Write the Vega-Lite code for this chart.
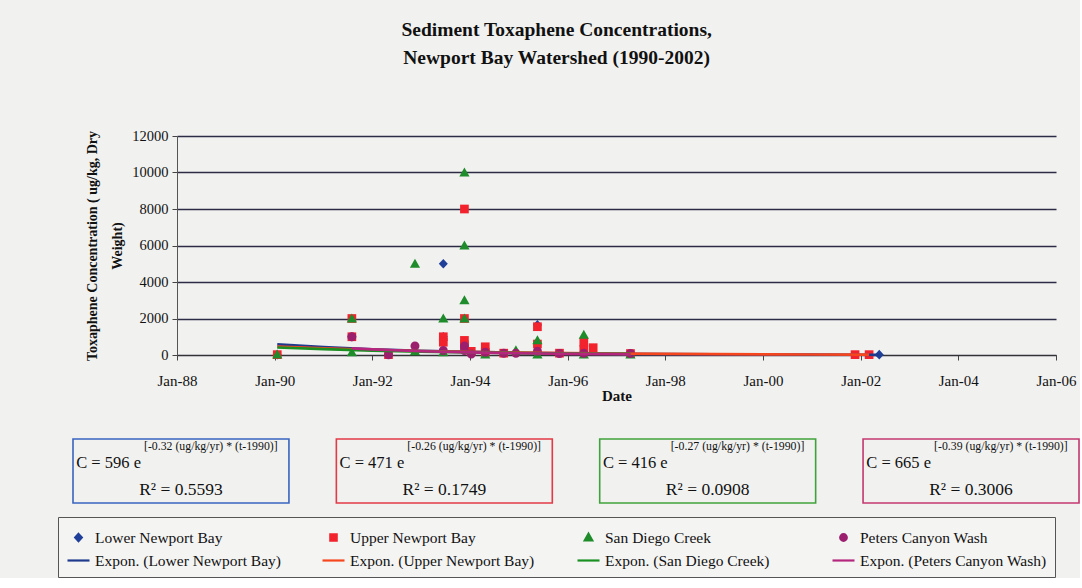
{
  "$schema": "https://vega.github.io/schema/vega-lite/v6.json",
  "background": "#f1f1f0",
  "padding": {"left": 57, "top": 19, "right": 0, "bottom": 0},
  "title": {
    "text": ["Sediment Toxaphene Concentrations,", "Newport Bay Watershed (1990-2002)"],
    "font": "Liberation Serif", "fontSize": 19.5, "fontWeight": "bold", "lineHeight": 28,
    "anchor": "middle", "offset": 60, "dx": -12, "color": "#111"
  },
  "config": {"view": {"stroke": null}, "font": "Liberation Serif"},
  "spacing": 35,
  "datasets": {
    "points": [
      {"series": "Lower Newport Bay", "date": "1990-01-20", "value": 20},
      {"series": "Lower Newport Bay", "date": "1991-08-01", "value": 1000},
      {"series": "Lower Newport Bay", "date": "1993-06-15", "value": 5000},
      {"series": "Lower Newport Bay", "date": "1993-06-15", "value": 1000},
      {"series": "Lower Newport Bay", "date": "1995-05-20", "value": 1650},
      {"series": "Lower Newport Bay", "date": "2002-05-20", "value": 20},
      {"series": "Upper Newport Bay", "date": "1990-01-20", "value": 20},
      {"series": "Upper Newport Bay", "date": "1991-08-01", "value": 2000},
      {"series": "Upper Newport Bay", "date": "1991-08-01", "value": 1000},
      {"series": "Upper Newport Bay", "date": "1992-05-01", "value": 20},
      {"series": "Upper Newport Bay", "date": "1993-06-15", "value": 1000},
      {"series": "Upper Newport Bay", "date": "1993-06-15", "value": 700},
      {"series": "Upper Newport Bay", "date": "1993-11-20", "value": 8000},
      {"series": "Upper Newport Bay", "date": "1993-11-20", "value": 2000},
      {"series": "Upper Newport Bay", "date": "1993-11-20", "value": 800},
      {"series": "Upper Newport Bay", "date": "1993-11-20", "value": 550},
      {"series": "Upper Newport Bay", "date": "1994-01-10", "value": 200},
      {"series": "Upper Newport Bay", "date": "1994-04-25", "value": 450},
      {"series": "Upper Newport Bay", "date": "1994-04-25", "value": 150},
      {"series": "Upper Newport Bay", "date": "1994-09-10", "value": 100},
      {"series": "Upper Newport Bay", "date": "1995-05-20", "value": 1550},
      {"series": "Upper Newport Bay", "date": "1995-05-20", "value": 600},
      {"series": "Upper Newport Bay", "date": "1995-11-01", "value": 100},
      {"series": "Upper Newport Bay", "date": "1996-05-01", "value": 700},
      {"series": "Upper Newport Bay", "date": "1996-05-01", "value": 300},
      {"series": "Upper Newport Bay", "date": "1996-07-10", "value": 400},
      {"series": "Upper Newport Bay", "date": "1997-04-15", "value": 80},
      {"series": "Upper Newport Bay", "date": "2001-11-20", "value": 20},
      {"series": "Upper Newport Bay", "date": "2002-03-05", "value": 20},
      {"series": "San Diego Creek", "date": "1990-01-20", "value": 20},
      {"series": "San Diego Creek", "date": "1991-08-01", "value": 2000},
      {"series": "San Diego Creek", "date": "1991-08-01", "value": 150},
      {"series": "San Diego Creek", "date": "1992-11-15", "value": 5000},
      {"series": "San Diego Creek", "date": "1992-11-15", "value": 200},
      {"series": "San Diego Creek", "date": "1993-06-15", "value": 2000},
      {"series": "San Diego Creek", "date": "1993-06-15", "value": 150},
      {"series": "San Diego Creek", "date": "1993-11-20", "value": 10000},
      {"series": "San Diego Creek", "date": "1993-11-20", "value": 6000},
      {"series": "San Diego Creek", "date": "1993-11-20", "value": 3000},
      {"series": "San Diego Creek", "date": "1993-11-20", "value": 2000},
      {"series": "San Diego Creek", "date": "1994-04-25", "value": 20},
      {"series": "San Diego Creek", "date": "1994-12-10", "value": 250},
      {"series": "San Diego Creek", "date": "1995-05-20", "value": 800},
      {"series": "San Diego Creek", "date": "1995-05-20", "value": 20},
      {"series": "San Diego Creek", "date": "1996-05-01", "value": 1100},
      {"series": "San Diego Creek", "date": "1996-05-01", "value": 20},
      {"series": "San Diego Creek", "date": "1997-04-15", "value": 20},
      {"series": "Peters Canyon Wash", "date": "1991-08-01", "value": 1000},
      {"series": "Peters Canyon Wash", "date": "1992-05-01", "value": 20},
      {"series": "Peters Canyon Wash", "date": "1992-11-15", "value": 500},
      {"series": "Peters Canyon Wash", "date": "1993-06-15", "value": 250},
      {"series": "Peters Canyon Wash", "date": "1993-11-20", "value": 500},
      {"series": "Peters Canyon Wash", "date": "1993-11-20", "value": 250},
      {"series": "Peters Canyon Wash", "date": "1994-01-10", "value": 50},
      {"series": "Peters Canyon Wash", "date": "1994-04-25", "value": 150},
      {"series": "Peters Canyon Wash", "date": "1994-09-10", "value": 100},
      {"series": "Peters Canyon Wash", "date": "1994-12-10", "value": 100},
      {"series": "Peters Canyon Wash", "date": "1995-05-20", "value": 200},
      {"series": "Peters Canyon Wash", "date": "1995-11-01", "value": 80},
      {"series": "Peters Canyon Wash", "date": "1996-05-01", "value": 100},
      {"series": "Peters Canyon Wash", "date": "1997-04-15", "value": 80}
    ],
    "trends": [
      {"series": "Expon. (Lower Newport Bay)", "date": "1990-01-20", "value": 587},
      {"series": "Expon. (Lower Newport Bay)", "date": "1991-01-01", "value": 434},
      {"series": "Expon. (Lower Newport Bay)", "date": "1992-01-01", "value": 314},
      {"series": "Expon. (Lower Newport Bay)", "date": "1993-01-01", "value": 228},
      {"series": "Expon. (Lower Newport Bay)", "date": "1994-01-01", "value": 166},
      {"series": "Expon. (Lower Newport Bay)", "date": "1995-01-01", "value": 120},
      {"series": "Expon. (Lower Newport Bay)", "date": "1996-01-01", "value": 87},
      {"series": "Expon. (Lower Newport Bay)", "date": "1997-01-01", "value": 63},
      {"series": "Expon. (Lower Newport Bay)", "date": "1998-01-01", "value": 46},
      {"series": "Expon. (Lower Newport Bay)", "date": "1999-01-01", "value": 33},
      {"series": "Expon. (Lower Newport Bay)", "date": "2000-01-01", "value": 24},
      {"series": "Expon. (Lower Newport Bay)", "date": "2001-01-01", "value": 18},
      {"series": "Expon. (Lower Newport Bay)", "date": "2002-01-01", "value": 13},
      {"series": "Expon. (Lower Newport Bay)", "date": "2002-05-20", "value": 11},
      {"series": "Expon. (Upper Newport Bay)", "date": "1990-01-20", "value": 465},
      {"series": "Expon. (Upper Newport Bay)", "date": "1991-01-01", "value": 363},
      {"series": "Expon. (Upper Newport Bay)", "date": "1992-01-01", "value": 280},
      {"series": "Expon. (Upper Newport Bay)", "date": "1993-01-01", "value": 216},
      {"series": "Expon. (Upper Newport Bay)", "date": "1994-01-01", "value": 166},
      {"series": "Expon. (Upper Newport Bay)", "date": "1995-01-01", "value": 128},
      {"series": "Expon. (Upper Newport Bay)", "date": "1996-01-01", "value": 99},
      {"series": "Expon. (Upper Newport Bay)", "date": "1997-01-01", "value": 76},
      {"series": "Expon. (Upper Newport Bay)", "date": "1998-01-01", "value": 59},
      {"series": "Expon. (Upper Newport Bay)", "date": "1999-01-01", "value": 45},
      {"series": "Expon. (Upper Newport Bay)", "date": "2000-01-01", "value": 35},
      {"series": "Expon. (Upper Newport Bay)", "date": "2001-01-01", "value": 27},
      {"series": "Expon. (Upper Newport Bay)", "date": "2002-01-01", "value": 21},
      {"series": "Expon. (Upper Newport Bay)", "date": "2002-03-05", "value": 20},
      {"series": "Expon. (San Diego Creek)", "date": "1990-01-20", "value": 410},
      {"series": "Expon. (San Diego Creek)", "date": "1991-01-01", "value": 318},
      {"series": "Expon. (San Diego Creek)", "date": "1992-01-01", "value": 242},
      {"series": "Expon. (San Diego Creek)", "date": "1993-01-01", "value": 185},
      {"series": "Expon. (San Diego Creek)", "date": "1994-01-01", "value": 141},
      {"series": "Expon. (San Diego Creek)", "date": "1995-01-01", "value": 108},
      {"series": "Expon. (San Diego Creek)", "date": "1996-01-01", "value": 82},
      {"series": "Expon. (San Diego Creek)", "date": "1997-01-01", "value": 63},
      {"series": "Expon. (San Diego Creek)", "date": "1997-04-15", "value": 58},
      {"series": "Expon. (Peters Canyon Wash)", "date": "1991-08-01", "value": 359},
      {"series": "Expon. (Peters Canyon Wash)", "date": "1992-01-01", "value": 305},
      {"series": "Expon. (Peters Canyon Wash)", "date": "1993-01-01", "value": 206},
      {"series": "Expon. (Peters Canyon Wash)", "date": "1994-01-01", "value": 140},
      {"series": "Expon. (Peters Canyon Wash)", "date": "1995-01-01", "value": 95},
      {"series": "Expon. (Peters Canyon Wash)", "date": "1996-01-01", "value": 64},
      {"series": "Expon. (Peters Canyon Wash)", "date": "1997-01-01", "value": 43},
      {"series": "Expon. (Peters Canyon Wash)", "date": "1997-04-15", "value": 38}
    ],
    "equations": [
      {"series": "Lower Newport Bay", "lhs": "C = 596 e", "exponent": "[-0.32 (ug/kg/yr) * (t-1990)]", "r2": "R² = 0.5593"},
      {"series": "Upper Newport Bay", "lhs": "C =  471 e", "exponent": "[-0.26 (ug/kg/yr) * (t-1990)]", "r2": "R² = 0.1749"},
      {"series": "San Diego Creek", "lhs": "C = 416 e", "exponent": "[-0.27 (ug/kg/yr) * (t-1990)]", "r2": "R² = 0.0908"},
      {"series": "Peters Canyon Wash", "lhs": "C = 665 e", "exponent": "[-0.39 (ug/kg/yr) * (t-1990)]", "r2": "R² = 0.3006"}
    ]
  },
  "vconcat": [
    {
      "width": 879,
      "height": 219,
      "encoding": {
        "x": {
          "field": "date", "type": "temporal", "title": "Date",
          "scale": {"domain": [{"year": 1988, "month": 1, "date": 1}, {"year": 2006, "month": 1, "date": 1}], "nice": false},
          "axis": {
            "format": "%b-%y", "tickCount": {"interval": "year", "step": 2},
            "labelFont": "Liberation Serif", "labelFontSize": 15, "labelColor": "#111",
            "labelPadding": 13, "tickSize": 5, "tickColor": "#444", "domainColor": "#333",
            "titleFont": "Liberation Serif", "titleFontSize": 15, "titleFontWeight": "bold",
            "titleColor": "#111", "titlePadding": 0, "grid": false, "labelFlush": false
          }
        },
        "y": {
          "field": "value", "type": "quantitative",
          "title": ["Toxaphene Concentration ( ug/kg, Dry", "Weight)"],
          "scale": {"domain": [0, 12000], "nice": false},
          "axis": {
            "values": [0, 2000, 4000, 6000, 8000, 10000, 12000], "format": "d", "labelOverlap": false,
            "grid": true, "gridColor": "#2c2c44", "gridWidth": 1.3,
            "labelFont": "Liberation Serif", "labelFontSize": 14.5, "labelColor": "#111",
            "labelPadding": 4, "tickSize": 5, "tickColor": "#444", "domainColor": "#555",
            "titleFont": "Liberation Serif", "titleFontSize": 14, "titleFontWeight": "bold",
            "titleColor": "#111", "titleLineHeight": 25, "titlePadding": 7
          }
        }
      },
      "layer": [
        {
          "data": {"name": "points"},
          "mark": {"type": "point", "filled": true, "size": 900, "opacity": 1},
          "encoding": {
            "color": {
              "field": "series", "type": "nominal",
              "scale": {
                "domain": ["Lower Newport Bay", "Upper Newport Bay", "San Diego Creek", "Peters Canyon Wash", "Expon. (Lower Newport Bay)", "Expon. (Upper Newport Bay)", "Expon. (San Diego Creek)", "Expon. (Peters Canyon Wash)"],
                "range": ["#1f3f99", "#f2232d", "#1e8c2a", "#9c1f6e", "#1f3a8c", "#f5461e", "#1a8f22", "#b5277f"]
              },
              "legend": {
                "title": null, "orient": "none", "legendX": -119, "legendY": 381,
                "direction": "horizontal", "columns": 4,
                "gridAlign": "all", "columnPadding": 36, "rowPadding": 2,
                "labelFont": "Liberation Serif", "labelFontSize": 15.5, "labelColor": "#111", "labelLimit": 300, "labelOffset": 4,
                "symbolSize": 484, "symbolStrokeWidth": 2.2, "strokeColor": "#555", "fillColor": "#f4f4f3", "padding": 8
              }
            },
            "shape": {
              "field": "series", "type": "nominal",
              "scale": {
                "domain": ["Lower Newport Bay", "Upper Newport Bay", "San Diego Creek", "Peters Canyon Wash", "Expon. (Lower Newport Bay)", "Expon. (Upper Newport Bay)", "Expon. (San Diego Creek)", "Expon. (Peters Canyon Wash)"],
                "range": [
                  "M0,-0.32L0.3,0L0,0.32L-0.3,0Z",
                  "M-0.29,-0.29H0.29V0.29H-0.29Z",
                  "M0,-0.34L0.34,0.26L-0.34,0.26Z",
                  "M-0.3,0A0.3,0.3 0 1,0 0.3,0A0.3,0.3 0 1,0 -0.3,0Z",
                  "stroke", "stroke", "stroke", "stroke"
                ]
              },
              "legend": {
                "title": null, "orient": "none", "legendX": -119, "legendY": 381,
                "direction": "horizontal", "columns": 4,
                "gridAlign": "all", "columnPadding": 36, "rowPadding": 2,
                "labelFont": "Liberation Serif", "labelFontSize": 15.5, "labelColor": "#111", "labelLimit": 300, "labelOffset": 4,
                "symbolSize": 484, "symbolStrokeWidth": 2.2, "strokeColor": "#555", "fillColor": "#f4f4f3", "padding": 8
              }
            }
          }
        },
        {
          "data": {"name": "trends"},
          "mark": {"type": "line", "strokeWidth": 2.7},
          "encoding": {
            "color": {"field": "series", "type": "nominal"}
          }
        }
      ]
    },
    {
      "width": 879,
      "height": 64,
      "data": {"name": "equations"},
      "encoding": {
        "x": {"field": "series", "type": "nominal", "sort": null, "axis": null,
              "scale": {"range": [-104, 902], "paddingInner": 0.18, "paddingOuter": 0}}
      },
      "layer": [
        {
          "mark": {"type": "rect", "filled": false, "strokeWidth": 1.6},
          "encoding": {
            "stroke": {"field": "series", "type": "nominal", "legend": null,
              "scale": {"domain": ["Lower Newport Bay", "Upper Newport Bay", "San Diego Creek", "Peters Canyon Wash"],
                        "range": ["#3a64c0", "#e33a45", "#3fa23a", "#c2386f"]}}
          }
        },
        {
          "mark": {"type": "text", "align": "right", "baseline": "alphabetic", "dx": -40, "dy": -3,
                   "font": "Liberation Serif", "fontSize": 16.5, "color": "#111"},
          "encoding": {"text": {"field": "lhs", "type": "nominal"}}
        },
        {
          "mark": {"type": "text", "align": "left", "baseline": "alphabetic", "dx": -37, "dy": -21,
                   "font": "Liberation Serif", "fontSize": 11.8, "color": "#111"},
          "encoding": {"text": {"field": "exponent", "type": "nominal"}}
        },
        {
          "mark": {"type": "text", "align": "center", "baseline": "alphabetic", "dx": 0, "dy": 24,
                   "font": "Liberation Serif", "fontSize": 17.5, "color": "#111"},
          "encoding": {"text": {"field": "r2", "type": "nominal"}}
        }
      ]
    }
  ]
}
